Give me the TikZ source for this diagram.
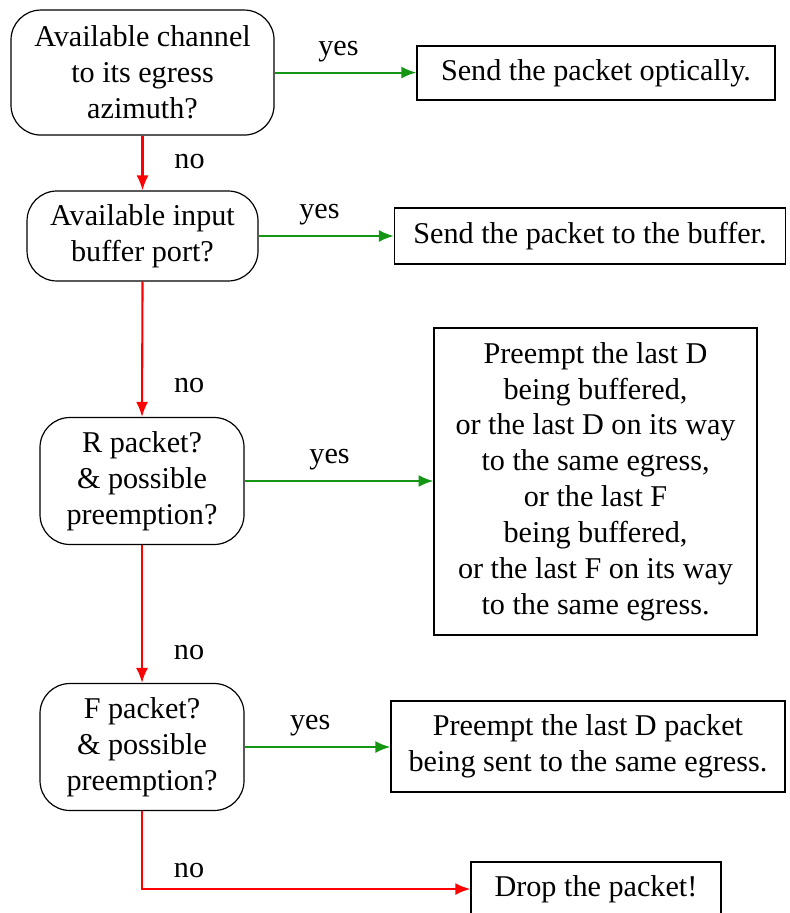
\documentclass[tikz,border=0pt]{standalone}
\usepackage{fontspec}
\setmainfont{Liberation Serif}
\usepackage{xcolor}
\usetikzlibrary{positioning,arrows.meta}
\definecolor{yesgreen}{RGB}{20,150,20}
\tikzset{
    decision/.style={rectangle,rounded corners=10pt,draw,align=center,inner sep=2pt},
    action/.style={rectangle,draw,align=center,inner sep=2pt},
    yesarrow/.style={-{Latex[length=5pt,width=4pt]},line width=0.7pt,yesgreen},
    noarrow/.style={-{Latex[length=5pt,width=4pt]},line width=0.7pt,red},
}
\begin{document}
\begin{tikzpicture}[font=\fontsize{10.1pt}{12pt}\selectfont]
    \useasboundingbox (0,0) rectangle (9.278,-10.736);
    % questions on the left
    \node[decision,minimum width=3.093cm,minimum height=1.470cm] (Q1) at (1.676,-0.853)
        {Available channel\\to its egress\\azimuth?};
    \node[decision,minimum width=2.716cm,minimum height=1.058cm] (Q2) at (1.676,-2.775)
        {Available input\\buffer port?};
    \node[decision,minimum width=2.399cm,minimum height=1.493cm] (Q3) at (1.670,-5.656)
        {R packet?\\\& possible\\preemption?};
    \node[decision,minimum width=2.399cm,minimum height=1.493cm] (Q4) at (1.670,-8.784)
        {F packet?\\\& possible\\preemption?};
    % actions on the right
    \node[action,minimum width=4.210cm,minimum height=0.635cm] (A1) at (7.008,-0.858)
        {Send the packet optically.};
    \node[action,minimum width=4.598cm,minimum height=0.659cm] (A2) at (6.938,-2.775)
        {Send the packet to the buffer.};
    \node[action,minimum width=3.798cm,minimum height=3.610cm] (A3) at (7.003,-5.662)
        {Preempt the last D\\being buffered,\\or the last D on its way\\to the same egress,\\or the last F\\being buffered,\\or the last F on its way\\to the same egress.};
    \node[action,minimum width=4.633cm,minimum height=1.070cm] (A4) at (6.914,-8.778)
        {Preempt the last D packet\\being sent to the same egress.};
    \node[action,minimum width=2.940cm,minimum height=0.635cm] (Drop) at (7.008,-10.454)
        {Drop the packet!};
    % yes branches
    \draw[yesarrow] (Q1.east) -- node[above=0pt,pos=0.45,black] {yes} (Q1.east -| A1.west);
    \draw[yesarrow] (Q2.east) -- node[above=0pt,pos=0.45,black] {yes} (Q2.east -| A2.west);
    \draw[yesarrow] (Q3.east) -- node[above=0pt,pos=0.45,black] {yes} (Q3.east -| A3.west);
    \draw[yesarrow] (Q4.east) -- node[above=0pt,pos=0.45,black] {yes} (Q4.east -| A4.west);
    % no branches
    \draw[noarrow] (Q1.south) -- node[right=7pt,pos=0.48,black] {no} (Q2.north);
    \draw[noarrow] (Q2.south) -- node[right=7pt,pos=0.77,black] {no} (Q3.north);
    \draw[noarrow] (Q3.south) -- node[right=7pt,pos=0.78,black] {no} (Q4.north);
    \draw[noarrow] (Q4.south) |- node[above right,pos=0.5,xshift=7pt,black] {no} (Drop.west);
\end{tikzpicture}
\end{document}
